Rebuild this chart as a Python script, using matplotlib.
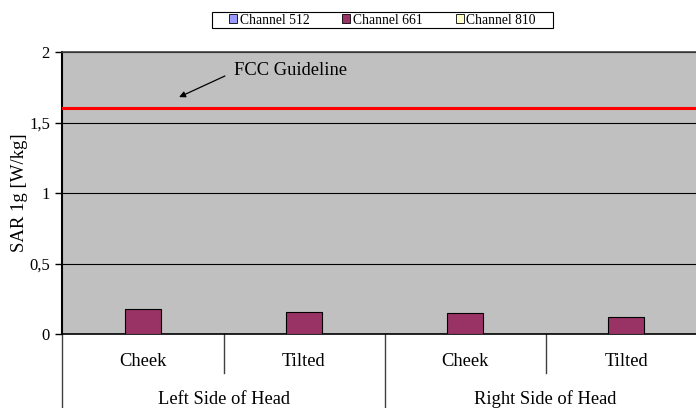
import matplotlib
matplotlib.use("Agg")
import matplotlib.pyplot as plt
import numpy as np
from matplotlib.patches import Patch, Rectangle
import matplotlib.transforms as mtransforms

plt.rcParams['font.family'] = ['Liberation Serif', 'DejaVu Serif']

categories = ["Cheek", "Tilted", "Cheek", "Tilted"]
groups = ["Left Side of Head", "Right Side of Head"]
series_names = ["Channel 512", "Channel 661", "Channel 810"]
ch512 = [None, None, None, None]
ch661 = [0.175, 0.154, 0.151, 0.12]
ch810 = [None, None, None, None]
series_colors = ["#9999FF", "#993366", "#FFFFCC"]
fcc_limit = 1.6
yticks = [0, 0.5, 1, 1.5, 2]
ytick_labels = ["0", "0,5", "1", "1,5", "2"]

fig = plt.figure(figsize=(6.96, 4.08), dpi=100)
W, H = 696, 408
left, right, top, bottom = 62.5, 706.5, 52, 334
ax = fig.add_axes([left / W, (H - bottom) / H, (right - left) / W, (bottom - top) / H])
ax.set_facecolor("#C0C0C0")

x = np.arange(len(categories))
bw = 0.224
for i, (vals, col) in enumerate(zip([ch512, ch661, ch810], series_colors)):
    offs = (i - 1) * bw
    xs = [xi + offs for xi, v in zip(x, vals) if v is not None]
    vs = [v for v in vals if v is not None]
    if xs:
        ax.bar(xs, vs, width=bw, color=col, edgecolor="black", linewidth=0.8, zorder=3)

ax.set_xlim(-0.5, len(categories) - 0.5)
ax.set_ylim(0, 2)
ax.set_yticks(yticks)
ax.set_yticklabels(ytick_labels, fontsize=12)
ax.yaxis.grid(True, color="black", linewidth=0.8, zorder=1)
ax.set_axisbelow(True)
ax.tick_params(axis="y", length=5, width=1, direction="out", pad=4)
ax.set_xticks([])
ax.spines["left"].set_linewidth(1.5)
ax.spines["bottom"].set_linewidth(1.2)
ax.spines["top"].set_color("#404040")
ax.spines["top"].set_linewidth(1.2)
ax.spines["right"].set_visible(False)

ax.axhline(fcc_limit, color="#FF0000", linewidth=2.2, zorder=4)

trans = mtransforms.blended_transform_factory(ax.transData, fig.transFigure)
def fy(py):
    return (H - py) / H

ax.text(0.565, 1.872, "FCC Guideline", fontsize=13.3, ha="left", va="center", zorder=5)
ax.annotate("", xy=(0.224, 1.68), xytext=(0.509, 1.83),
            arrowprops=dict(arrowstyle="-|>", color="black", lw=0.9,
                            mutation_scale=9, shrinkA=0, shrinkB=0))

ax.set_ylabel("SAR 1g [W/kg]", fontsize=13.5)
ax.yaxis.set_label_coords((28 - left) / (right - left), 0.5)

for xi, lab in zip(x, categories):
    ax.text(xi, fy(362), lab, transform=trans, ha="center", va="center", fontsize=13.3)
for xb in [0.5, 2.5]:
    ax.plot([xb, xb], [fy(334), fy(373)], transform=trans, color="#404040", lw=1, clip_on=False)
for xb in [-0.5, 1.5]:
    ax.plot([xb, xb], [fy(334), fy(410)], transform=trans, color="#404040", lw=1, clip_on=False)
for gi, g in enumerate(groups):
    ax.text(gi * 2 + 0.5, fy(399), g, transform=trans, ha="center", va="center", fontsize=13.3)

handles = [Patch(facecolor=c, edgecolor="black", linewidth=0.6) for c in series_colors]
leg = fig.legend(handles, series_names, loc="center", bbox_to_anchor=(382.5 / W, fy(20)),
                 ncol=3, fontsize=9.8, frameon=False,
                 handlelength=0.6, handleheight=0.6, handletextpad=0.2, columnspacing=2.4,
                 borderpad=0.1, borderaxespad=0)
fig.patches.append(Rectangle((212 / W, fy(27.5)), (553 - 212) / W, 15.5 / H,
                             transform=fig.transFigure, fill=False, edgecolor="black",
                             linewidth=0.8))

fig.savefig("out.png", dpi=100)
